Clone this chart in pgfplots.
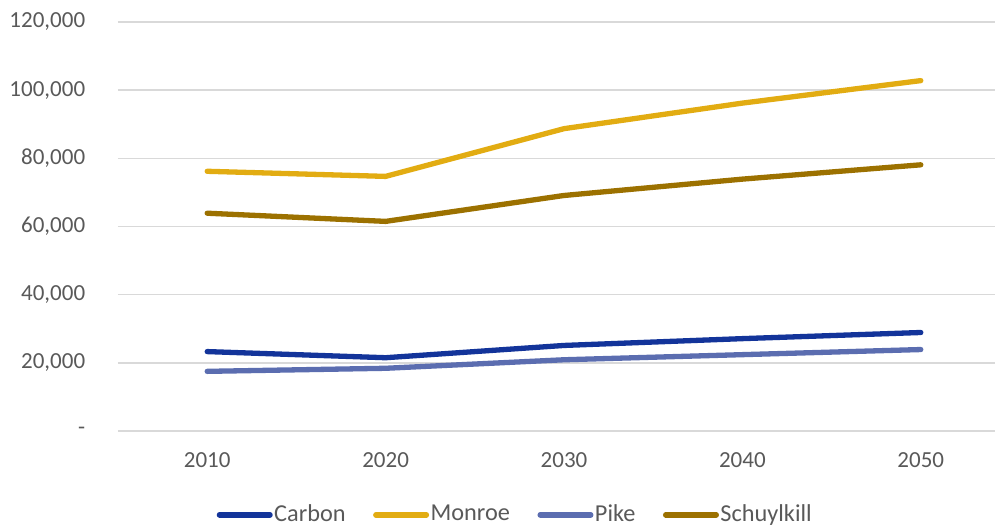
\documentclass[border=0pt]{standalone}
\usepackage{pgfplots}
\pgfplotsset{compat=1.18}
\usepackage{fontspec}
\setmainfont{Carlito}

\definecolor{carbon}{HTML}{13349A}
\definecolor{monroe}{HTML}{E2AC12}
\definecolor{pike}{HTML}{5B6DB0}
\definecolor{schuyl}{HTML}{9C7100}
\definecolor{txtgray}{HTML}{595959}
\definecolor{gridgray}{HTML}{D9D9D9}

\begin{document}
\fontsize{23}{27}\selectfont
\begin{tikzpicture}
\begin{axis}[
  at={(0,0)}, anchor=south west,
  scale only axis,
  width=877pt, height=409pt,
  xmin=-0.5, xmax=4.416,
  ymin=0, ymax=120000,
  xtick={0,1,2,3,4},
  xticklabels={2010,2020,2030,2040,2050},
  ytick={0,20000,40000,60000,80000,100000,120000},
  yticklabels={{-\hspace{16pt}},{20,000},{40,000},{60,000},{80,000},{100,000},{120,000}},
  scaled y ticks=false,
  axis line style={draw=none},
  major tick length=0pt,
  xmajorgrids=false,
  ymajorgrids=true,
  major grid style={draw=gridgray, line width=1.5pt},
  tick label style={text=txtgray, font=\fontsize{23}{27}\selectfont},
  yticklabel style={xshift=-25pt},
  xticklabel style={yshift=-14pt},
  clip=false,
  legend columns=4,
  legend style={draw=none, fill=none, at={(0.4527,-0.205)}, anchor=center,
    font=\fontsize{24.3}{27}\selectfont, text=txtgray,
    /tikz/every even column/.append style={column sep=26pt},
    nodes={inner xsep=1.5pt}},
  legend image code/.code={\draw[#1, line width=5.5pt, line cap=round] (2.75pt,0pt) -- (53.25pt,0pt);},
  every axis plot/.append style={line width=5.3pt, line join=round, line cap=round},
]
\addplot[carbon] coordinates {(0,23300) (1,21500) (2,25100) (3,27100) (4,28900)};
\addlegendentry{Carbon}
\addplot[monroe] coordinates {(0,76200) (1,74700) (2,88700) (3,96200) (4,102800)};
\addlegendentry{Monroe}
\addplot[pike] coordinates {(0,17500) (1,18400) (2,20900) (3,22400) (4,23900)};
\addlegendentry{Pike}
\addplot[schuyl] coordinates {(0,63900) (1,61500) (2,69100) (3,73900) (4,78100)};
\addlegendentry{Schuylkill}
\end{axis}
\pgfresetboundingbox
\useasboundingbox (-118pt,-96pt) rectangle (877pt,431pt);
\end{tikzpicture}
\end{document}
